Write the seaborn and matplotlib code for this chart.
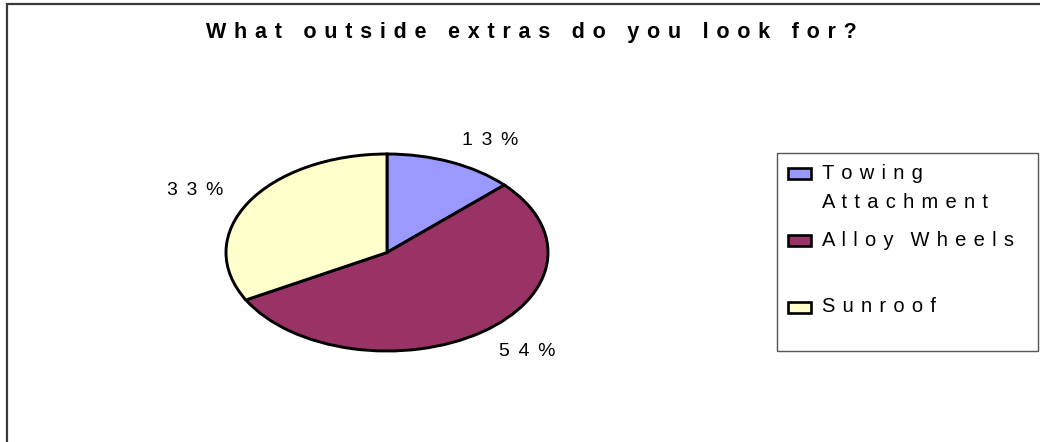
import matplotlib
matplotlib.use("Agg")
import matplotlib.pyplot as plt
import matplotlib.patches as mpatches
import numpy as np
import seaborn as sns

# Survey data
title = "What outside extras do you look for?"
categories = ["Towing Attachment", "Alloy Wheels", "Sunroof"]
shares = [13, 54, 33]
palette = ["#9999FF", "#993366", "#FFFFCC"]

sns.set_theme(style="white")
plt.rcParams["font.family"] = ["Liberation Sans", "DejaVu Sans"]

HAIR = "\u200a"


def spread(text, gap=" " + HAIR, word_gap="   "):
    """Letter-spaced rendering of a label."""
    return word_gap.join(gap.join(word) for word in text.split())


W, H = 1040, 442
fig = plt.figure(figsize=(W / 100, H / 100), dpi=100)
fig.patch.set_facecolor("white")


def px_axes(x0, y0, x1, y1):
    return fig.add_axes([x0 / W, 1 - y1 / H, (x1 - x0) / W, (y1 - y0) / H])


# chart-area frame (runs off the right and bottom edges)
frame = mpatches.Rectangle((7 / W, -0.2), 1.3, 1.2 - 4 / H,
                           transform=fig.transFigure, fill=False,
                           edgecolor="#3a3a3a", linewidth=1.6)
fig.patches.append(frame)

fig.text(531 / W, 1 - 38 / H, spread(title, word_gap="   " + HAIR * 2),
         ha="center", va="baseline", fontsize=15.5, fontweight="bold",
         color="black")

# elliptical pie
ax = px_axes(226, 154, 548, 351)
wedges, _ = ax.pie(shares, colors=palette, startangle=90, counterclock=False,
                   radius=1, wedgeprops=dict(edgecolor="black", linewidth=2.1))
for w in wedges:
    w.set_clip_on(False)
ax.set_aspect("auto")
ax.set_xlim(-1, 1)
ax.set_ylim(-1, 1)
ax.axis("off")

for w, v in zip(wedges, shares):
    mid = np.deg2rad((w.theta1 + w.theta2) / 2)
    x, y = 1.18 * np.cos(mid), 1.24 * np.sin(mid)
    ax.text(x, y, spread(f"{v}%", gap=" " + HAIR * 2),
            ha="left" if x > 0 else "right", va="center", fontsize=14,
            color="black", clip_on=False)

# legend box
lg = px_axes(777, 153, 1038, 351)
lg.set_xlim(0, 261)
lg.set_ylim(198, 0)
lg.axis("off")
lg.add_patch(mpatches.Rectangle((0, 0), 261, 198, fill=False,
                                edgecolor="#555555", linewidth=1.0,
                                clip_on=False))
row_step = 66.5
line_step = 28.5
for i, (name, color) in enumerate(zip(categories, palette)):
    yc = 21 + i * row_step
    lg.add_patch(mpatches.Rectangle((11, yc - 5.5), 23, 11, facecolor=color,
                                    edgecolor="black", linewidth=1.9))
    lines = name.split() if len(name) > 14 else [name]
    for k, part in enumerate(lines):
        lg.text(45, yc + 5.5 + k * line_step, spread(part),
                ha="left", va="baseline", fontsize=14.5, color="black")

fig.savefig("out.png", dpi=100, facecolor="white")
